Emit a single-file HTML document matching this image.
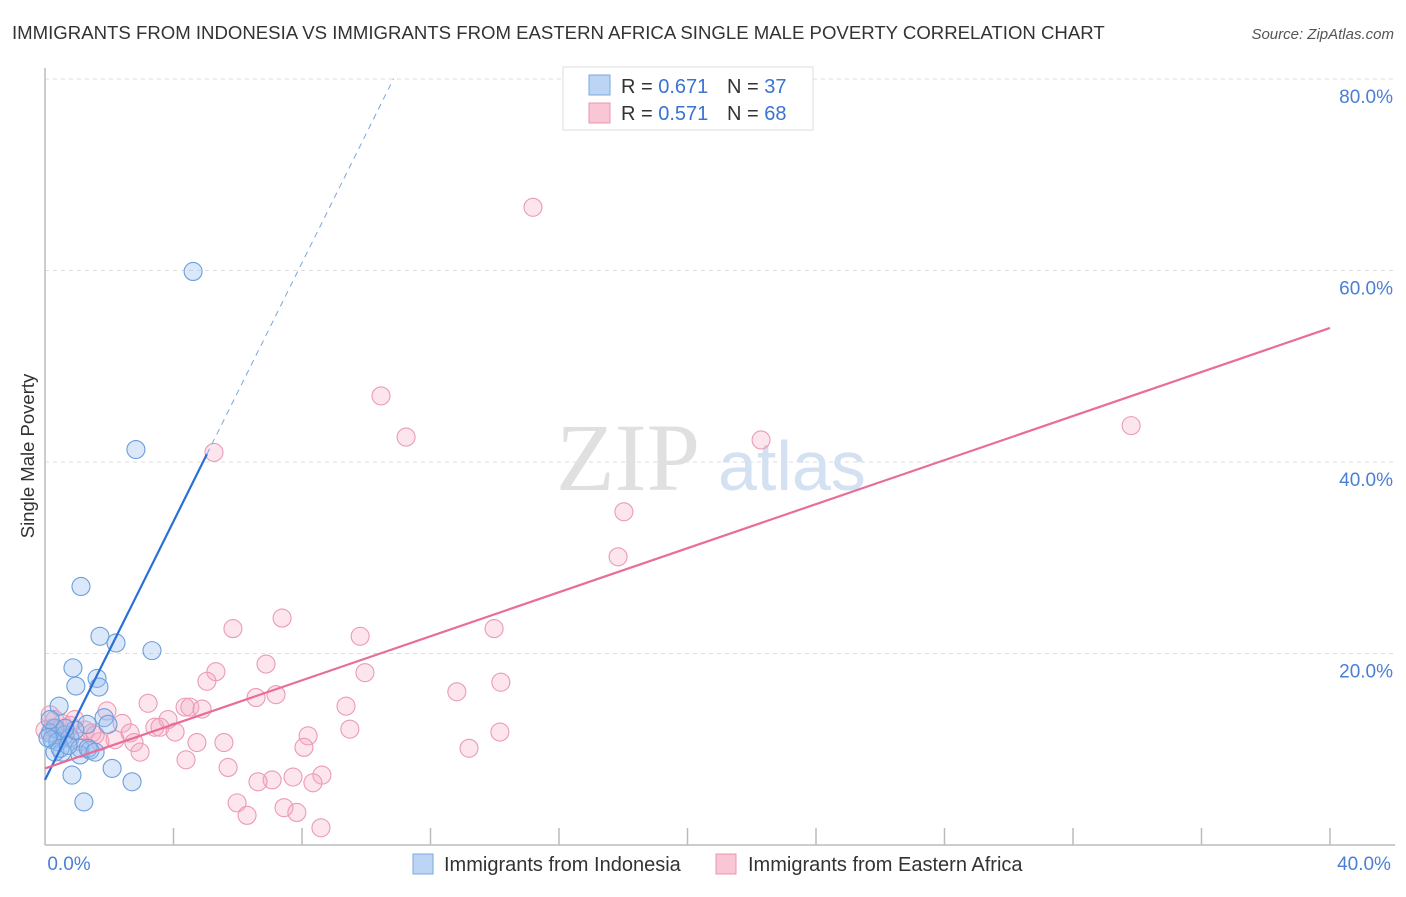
<!DOCTYPE html>
<html><head><meta charset="utf-8"><style>
body{margin:0;background:#fff;font-family:"Liberation Sans",sans-serif;}
svg text{font-family:"Liberation Sans",sans-serif;}
</style></head><body>
<svg id="chart" width="1406" height="892" viewBox="0 0 1406 892" xmlns="http://www.w3.org/2000/svg">
<text x="12" y="39" font-size="18.6" fill="#333">IMMIGRANTS FROM INDONESIA VS IMMIGRANTS FROM EASTERN AFRICA SINGLE MALE POVERTY CORRELATION CHART</text>
<text x="1394" y="39" font-size="15" fill="#555" font-style="italic" text-anchor="end">Source: ZipAtlas.com</text>
<g id="grid"></g>
<text x="700" y="490" font-size="96" fill="#e0e0e0" text-anchor="end" style="font-family:'Liberation Serif',serif">ZIP</text>
<text x="718" y="490" font-size="70" fill="#d3e1f3">atlas</text>
<line x1="45" y1="68" x2="45" y2="845" stroke="#bbb" stroke-width="1.5"/>
<line x1="45" y1="845" x2="1395" y2="845" stroke="#bbb" stroke-width="1.5"/>
<g id="xticks"></g>
<g id="ylabels"></g>
<text x="69" y="870" font-size="19" fill="#4a7fd4" text-anchor="middle">0.0%</text>
<text x="1364" y="870" font-size="19" fill="#4a7fd4" text-anchor="middle">40.0%</text>
<text transform="translate(34,456) rotate(-90)" font-size="18.5" fill="#333" text-anchor="middle">Single Male Poverty</text>
<g id="pinkpts"></g>
<g id="bluepts"></g>
<g id="lines"></g>
<g>
<rect x="563" y="67" width="250" height="63" fill="#fff" stroke="#ddd"/>
<rect x="589" y="75" width="21" height="20" fill="#bcd5f5" stroke="#7aa6e0"/>
<rect x="589" y="103" width="21" height="20" fill="#f9c6d6" stroke="#ec94b2"/>
<text x="621" y="93" font-size="20" fill="#333">R = <tspan fill="#3b73d1">0.671</tspan></text>
<text x="727" y="93" font-size="20" fill="#333">N = <tspan fill="#3b73d1">37</tspan></text>
<text x="621" y="120" font-size="20" fill="#333">R = <tspan fill="#3b73d1">0.571</tspan></text>
<text x="727" y="120" font-size="20" fill="#333">N = <tspan fill="#3b73d1">68</tspan></text>
</g>
<g>
<rect x="413" y="854" width="20" height="20" fill="#bcd5f5" stroke="#7aa6e0"/>
<text x="444" y="871" font-size="20" fill="#333">Immigrants from Indonesia</text>
<rect x="716" y="854" width="20" height="20" fill="#f9c6d6" stroke="#ec94b2"/>
<text x="748" y="871" font-size="20" fill="#333">Immigrants from Eastern Africa</text>
</g>
</svg>
<script>
const yTicks=[20,40,60,80];
const yTickLabels=["20.0%","40.0%","60.0%","80.0%"];
const xTicks=[4,8,12,16,20,24,28,32,36,40];
const blueX=[4.61,2.83,1.12,1.71,2.21,3.33,0.87,1.62,0.96,1.68,0.44,1.84,1.31,1.96,0.31,0.16,0.62,0.22,0.40,0.78,0.53,1.09,1.40,1.09,0.31,2.09,0.84,2.71,1.21,0.47,0.72,0.09,0.93,1.34,0.62,0.16,1.56];
const blueY=[59.9,41.3,27.0,21.8,21.1,20.3,18.5,17.4,16.6,16.5,14.5,13.3,12.6,12.6,12.2,11.7,11.5,11.0,10.8,11.2,9.7,10.1,9.9,9.4,9.7,8.0,7.3,6.6,4.5,10.1,10.4,11.2,12.0,10.1,12.2,13.1,9.7];
const pinkX=[15.19,10.46,11.24,5.26,22.29,33.81,18.02,17.84,7.38,5.85,9.81,13.98,6.88,5.32,9.96,5.04,14.19,12.82,3.21,6.57,7.19,9.37,4.36,4.51,4.89,1.93,3.83,2.40,3.42,3.58,4.05,2.65,9.49,14.16,8.19,2.18,1.71,4.73,2.77,8.06,5.57,13.20,2.96,4.39,5.70,8.62,7.72,7.07,6.63,8.34,5.98,7.44,7.84,6.29,8.59,0.16,0.31,0.53,0.78,1.25,1.46,0.40,0.93,0.22,0.65,1.09,1.56,0.0];
const pinkY=[66.6,46.9,42.6,41.0,42.3,43.8,34.8,30.1,23.7,22.6,21.8,22.6,18.9,18.1,18.0,17.1,17.0,16.0,14.8,15.4,15.7,14.5,14.4,14.4,14.2,14.0,13.1,12.7,12.3,12.3,11.8,11.7,12.1,11.8,11.4,11.0,10.8,10.7,10.7,10.2,10.7,10.1,9.7,8.9,8.1,7.3,7.1,6.8,6.6,6.5,4.4,3.9,3.4,3.1,1.8,13.6,13.1,12.7,12.5,12.0,11.7,12.0,13.1,12.2,11.2,10.8,11.5,12.0];
const blueTrend=[6.8,6.75];   // intercept, slope
const blueSolidEnd=5.04, blueDashEnd=10.85;
const pinkTrend=[8.0,1.15];
const NS="http://www.w3.org/2000/svg";
const sx=v=>45+v*1285/40;
const sy=v=>845-v*191.5/20;
function mk(tag,attrs,parent){const e=document.createElementNS(NS,tag);for(const k in attrs)e.setAttribute(k,attrs[k]);parent.appendChild(e);return e;}
const grid=document.getElementById('grid'),yl=document.getElementById('ylabels'),xt=document.getElementById('xticks');
yTicks.forEach((t,i)=>{
  const l=mk('line',{x1:45,x2:1395,y1:sy(t),y2:sy(t),stroke:'#ddd','stroke-dasharray':'4,4'},grid);
  
  
  const tx=mk('text',{x:1393,y:sy(t)+24,'font-size':19,fill:'#4a7fd4','text-anchor':'end'},yl);
  tx.textContent=yTickLabels[i];
  
  
});
xTicks.forEach(t=>{
  const l=mk('line',{x1:sx(t),x2:sx(t),y1:828,y2:845,stroke:'#bbb','stroke-width':1.5},xt);
  
  
});
const pp=document.getElementById('pinkpts');
pinkX.forEach((x,i)=>{
  const c=mk('circle',{cx:sx(x),cy:sy(pinkY[i]),r:9,fill:'rgba(244,170,195,0.3)',stroke:'#eb9ab6','stroke-width':1.1},pp);
  
  
});
const bp=document.getElementById('bluepts');
blueX.forEach((x,i)=>{
  const c=mk('circle',{cx:sx(x),cy:sy(blueY[i]),r:9,fill:'rgba(150,190,240,0.35)',stroke:'#6b9edc','stroke-width':1.1},bp);
  
  
});
const ln=document.getElementById('lines');
const bt=x=>blueTrend[0]+blueTrend[1]*x, pt=x=>pinkTrend[0]+pinkTrend[1]*x;
let a=mk('line',{x1:sx(0),y1:sy(bt(0)),x2:sx(blueSolidEnd),y2:sy(bt(blueSolidEnd)),stroke:'#2a6fd6','stroke-width':2.2},ln);


a=mk('line',{x1:sx(blueSolidEnd),y1:sy(bt(blueSolidEnd)),x2:sx(blueDashEnd),y2:sy(bt(blueDashEnd)),stroke:'#7aa6e0','stroke-width':1,'stroke-dasharray':'6,5'},ln);


a=mk('line',{x1:sx(0),y1:sy(pt(0)),x2:sx(40),y2:sy(pt(40)),stroke:'#e86d98','stroke-width':2.2},ln);


</script>
</body></html>
